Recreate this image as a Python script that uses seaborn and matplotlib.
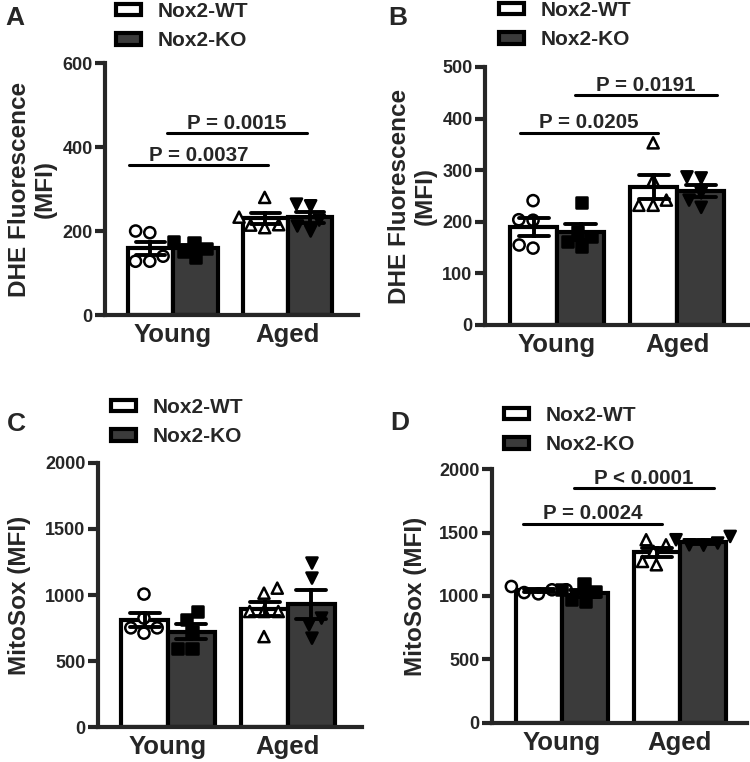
import pandas as pd
import matplotlib
matplotlib.use('Agg')
import matplotlib.pyplot as plt
import seaborn as sns
from matplotlib.patches import Patch

sns.set_theme(style='ticks')
plt.rcParams['font.family'] = ['Liberation Sans', 'DejaVu Sans']
plt.rcParams['font.weight'] = 'bold'
plt.rcParams['axes.labelweight'] = 'bold'

#------------------------------------------------------------------------------------
# data
ages = ['Young', 'Aged']
genotypes = ['Nox2-WT', 'Nox2-KO']

# A: DHE fluorescence
a_young_wt = [200, 196, 128, 140, 128]
a_young_ko = [137, 176, 152, 173, 158]
a_aged_wt = [280, 208, 233, 215, 214]
a_aged_ko = [264, 260, 212, 226, 200]

# B: DHE fluorescence
b_young_wt = [241, 203, 204, 149, 155]
b_young_ko = [237, 152, 171, 181, 161]
b_aged_wt = [353, 232, 242, 232, 280]
b_aged_ko = [287, 285, 228, 242, 256]

# C: MitoSox
c_young_wt = [1007, 825, 711, 751, 751]
c_young_ko = [875, 817, 597, 597, 723]
c_aged_wt = [1052, 1014, 875, 875, 875, 685]
c_aged_ko = [1242, 1128, 673, 774, 825]

# D: MitoSox
d_young_wt = [1027, 1075, 1049, 1049, 1017]
d_young_ko = [1035, 1049, 1101, 970, 956]
d_aged_wt = [1443, 1403, 1246, 1272, 1351]
d_aged_ko = [1443, 1469, 1403, 1417, 1400]

# significance brackets: (x start, x end, y, label)
a_pvals = [(-0.38, 0.83, 356, 'P = 0.0037'), (-0.05, 1.17, 434, 'P = 0.0015')]
b_pvals = [(-0.31, 0.84, 373, 'P = 0.0205'), (0.15, 1.33, 445, 'P = 0.0191')]
c_pvals = []
d_pvals = [(-0.33, 0.85, 1570, 'P = 0.0024'), (0.10, 1.29, 1850, 'P < 0.0001')]

bar_pal = {'Nox2-WT': 'white', 'Nox2-KO': '#3b3b3b'}
pt_pal = {'Nox2-WT': 'white', 'Nox2-KO': 'black'}
markers = {('Young', 'Nox2-WT'): 'o', ('Young', 'Nox2-KO'): 's',
           ('Aged', 'Nox2-WT'): '^', ('Aged', 'Nox2-KO'): 'v'}


def make_df(yw, yk, aw, ak):
    rows = []
    for age, geno, vals in [('Young', 'Nox2-WT', yw), ('Young', 'Nox2-KO', yk),
                            ('Aged', 'Nox2-WT', aw), ('Aged', 'Nox2-KO', ak)]:
        for v in vals:
            rows.append({'age': age, 'geno': geno, 'value': v})
    return pd.DataFrame(rows)


fig = plt.figure(figsize=(7.5, 7.62), dpi=100)


def panel(rect, df, ymax, ystep, ylabel, xlim, pvals, letter, letter_xy, leg_xy, labelpad):
    ax = fig.add_axes(rect)
    sns.barplot(data=df, x='age', y='value', hue='geno', order=ages, hue_order=genotypes,
                palette=bar_pal, width=0.78, gap=0, errorbar='se', capsize=0.5,
                err_kws={'color': 'black', 'linewidth': 2.8}, edgecolor='black',
                linewidth=3, legend=False, ax=ax)
    for ln in ax.lines:
        ln.set_zorder(5)
    for (age, geno), m in markers.items():
        sub = df[(df.age == age) & (df.geno == geno)]
        sns.swarmplot(data=sub, x='age', y='value', hue='geno', order=ages,
                      hue_order=genotypes, dodge=True, palette=pt_pal, marker=m,
                      size=8, edgecolor='black', linewidth=1.8, legend=False,
                      ax=ax, zorder=4, warn_thresh=1)
    ax.set_xlim(*xlim)
    ax.set_ylim(0, ymax)
    ax.set_yticks(range(0, ymax + 1, ystep))
    ax.set_xlabel('')
    ax.set_ylabel(ylabel, fontsize=17.5, fontweight='bold', labelpad=labelpad, linespacing=1.15)
    sns.despine(ax=ax)
    for s in ['left', 'bottom']:
        ax.spines[s].set_linewidth(3)
    ax.tick_params(axis='y', width=3, length=7, labelsize=13, pad=2)
    ax.tick_params(axis='x', length=0, labelsize=18.5, pad=6)
    for t in ax.get_xticklabels() + ax.get_yticklabels():
        t.set_fontweight('bold')
    for x0, x1, y, lab in pvals:
        ax.plot([x0, x1], [y, y], color='black', lw=2.2, clip_on=False)
        ax.annotate(lab, xy=((x0 + x1) / 2, y), xytext=(0, 3), textcoords='offset points',
                    ha='center', va='baseline', fontsize=14.8, fontweight='bold')
    handles = [Patch(facecolor='white', edgecolor='black', linewidth=3, label='Nox2-WT'),
               Patch(facecolor='#3b3b3b', edgecolor='black', linewidth=3, label='Nox2-KO')]
    ax.legend(handles=handles, loc='upper left',
              bbox_to_anchor=(leg_xy[0] / 750, 1 - leg_xy[1] / 762),
              bbox_transform=fig.transFigure, frameon=False, borderpad=0,
              borderaxespad=0, handlelength=1.2, handleheight=0.45,
              handletextpad=0.8, labelspacing=0.5,
              prop={'weight': 'bold', 'size': 15})
    fig.text(letter_xy[0] / 750, 1 - letter_xy[1] / 762, letter, fontsize=19,
             fontweight='bold', ha='left', va='top')
    return ax


panel([0.140, 0.5866, 0.337, 0.3307], make_df(a_young_wt, a_young_ko, a_aged_wt, a_aged_ko),
      600, 200, 'DHE Fluorescence\n(MFI)', (-0.59, 1.61), a_pvals, 'A', (5, 6), (116, 2), 4)
panel([0.6467, 0.5735, 0.3507, 0.3386], make_df(b_young_wt, b_young_ko, b_aged_wt, b_aged_ko),
      500, 100, 'DHE Fluorescence\n(MFI)', (-0.6, 1.59), b_pvals, 'B', (388, 6), (499, 1), 4)
panel([0.1307, 0.0459, 0.352, 0.3465], make_df(c_young_wt, c_young_ko, c_aged_wt, c_aged_ko),
      2000, 500, 'MitoSox (MFI)', (-0.583, 1.617), c_pvals, 'C', (7, 412), (111, 398), 10)
panel([0.656, 0.0512, 0.34, 0.3333], make_df(d_young_wt, d_young_ko, d_aged_wt, d_aged_ko),
      2000, 500, 'MitoSox (MFI)', (-0.593, 1.568), d_pvals, 'D', (390, 411), (504, 406), 9)

fig.savefig('out.png', dpi=100)
